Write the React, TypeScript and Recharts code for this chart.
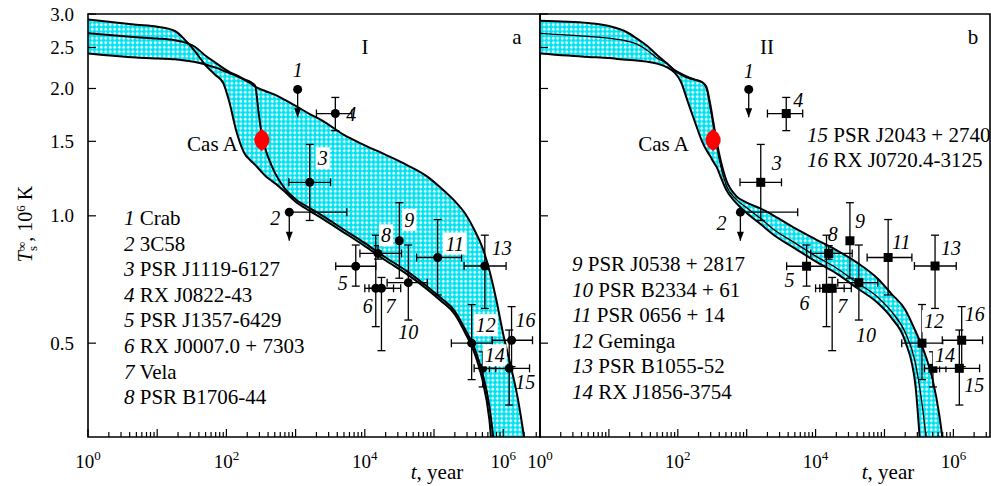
import React from 'react';
import {
  ComposedChart,
  Area,
  Line,
  Scatter,
  XAxis,
  YAxis,
  ErrorBar,
  ReferenceArea,
} from 'recharts';

const FONT = '"Liberation Serif", "DejaVu Serif", "Times New Roman", serif';
const X_MAX = 3.4e6;

const curveAges = [
  1, 5, 10, 18, 25, 35, 50, 70, 90, 110, 140, 180, 225, 260, 295, 330, 370, 420, 500, 700,
  1000, 1600, 2500, 5000, 1e4, 2e4, 4e4, 8e4, 1.25e5, 2e5, 2.8e5, 4e5, 5e5, 6.3e5, 8e5, 1e6,
  1.25e6, 1.6e6, 2e6, 2.5e6,
];

// panel a (model I), surface temperature in 10^6 K
const curveI1 = [
  2.91, 2.83, 2.8, 2.735, 2.61, 2.45, 2.27, 2.15, 2.06, 1.86, 1.58, 1.41, 1.35, 1.32, 1.29,
  1.265, 1.24, 1.22, 1.195, 1.14, 1.08, 1.027, 0.982, 0.913, 0.848, 0.784, 0.729, 0.67, 0.63,
  0.585, 0.53, 0.465, 0.41, 0.33, 0.2, 0.15, 0.12, 0.1, 0.1, 0.1,
];
const curveI2 = [
  2.7, 2.645, 2.625, 2.6, 2.57, 2.51, 2.39, 2.3, 2.235, 2.19, 2.15, 2.105, 2.07, 2.03, 1.73,
  1.53, 1.43, 1.35, 1.265, 1.16, 1.095, 1.043, 0.998, 0.927, 0.862, 0.797, 0.741, 0.68, 0.64,
  0.595, 0.54, 0.478, 0.425, 0.355, 0.25, 0.15, 0.12, 0.1, 0.1, 0.1,
];
const curveI3 = [
  2.42, 2.367, 2.355, 2.345, 2.33, 2.31, 2.28, 2.24, 2.205, 2.175, 2.14, 2.1, 2.055, 2.02, 2.0,
  1.985, 1.97, 1.955, 1.935, 1.88, 1.82, 1.74, 1.675, 1.553, 1.468, 1.394, 1.32, 1.238, 1.165,
  1.083, 1.014, 0.913, 0.842, 0.744, 0.63, 0.525, 0.45, 0.375, 0.3, 0.23,
];

// panel b (model II)
const curveII1 = [
  2.89, 2.855, 2.81, 2.72, 2.63, 2.53, 2.4, 2.29, 2.205, 2.16, 2.12, 2.095, 2.07, 2.02, 1.84,
  1.655, 1.49, 1.35, 1.22, 1.115, 1.075, 1.04, 1.0, 0.935, 0.88, 0.83, 0.775, 0.71, 0.655, 0.6,
  0.535, 0.464, 0.41, 0.335, 0.24, 0.15, 0.12, 0.1, 0.1, 0.1,
];
const curveII2 = [
  2.7, 2.655, 2.63, 2.59, 2.55, 2.47, 2.36, 2.29, 2.215, 2.175, 2.135, 2.1, 2.07, 2.0, 1.8,
  1.62, 1.45, 1.31, 1.185, 1.095, 1.045, 0.985, 0.927, 0.863, 0.803, 0.753, 0.695, 0.642,
  0.595, 0.53, 0.45, 0.3, 0.2, 0.15, 0.12, 0.1, 0.1, 0.1, 0.1, 0.1,
];
const curveII3 = [
  2.42, 2.375, 2.36, 2.338, 2.33, 2.315, 2.29, 2.245, 2.18, 2.08, 1.86, 1.655, 1.5, 1.43, 1.385,
  1.34, 1.3, 1.235, 1.155, 1.073, 1.015, 0.955, 0.9, 0.838, 0.78, 0.731, 0.675, 0.622, 0.575,
  0.505, 0.4, 0.18, 0.12, 0.1, 0.1, 0.1, 0.1, 0.1, 0.1, 0.1,
];

// observed neutron stars
const starNames = [
  'Crab', '3C58', 'PSR J1119-6127', 'RX J0822-43', 'PSR J1357-6429', 'RX J0007.0 + 7303',
  'Vela', 'PSR B1706-44', 'PSR J0538 + 2817', 'PSR B2334 + 61', 'PSR 0656 + 14', 'Geminga',
  'PSR B1055-52', 'RX J1856-3754', 'PSR J2043 + 2740', 'RX J0720.4-3125',
];
const starAge = [
  1070, 810, 1600, 3750, 7400, 14400, 17400, 15500, 31500, 42500, 113000, 350000, 542000,
  505000, 1220000, 1320000,
];
const starAgeLow = [
  1070, 810, 800, 2000, 3800, 10000, 11500, 8500, 31500, 21000, 56000, 178000, 272000, 380000,
  630000, 690000,
];
const starAgeHigh = [
  1070, 5500, 3200, 6500, 14400, 26000, 33000, 34000, 31500, 80000, 250000, 700000, 1100000,
  780000, 2400000, 2650000,
];
const starTemp = [
  1.99, 1.02, 1.2, 1.745, 0.76, 0.674, 0.674, 0.815, 0.873, 0.695, 0.797, 0.5, 0.761, 0.436,
  0.436, 0.508,
];
const starTempLow = [
  1.71, 0.873, 0.975, 1.59, 0.682, 0.547, 0.48, 0.79, 0.712, 0.567, 0.65, 0.41, 0.604, 0.394,
  0.357, 0.44,
];
const starTempHigh = [
  1.99, 1.02, 1.475, 1.905, 0.853, 0.9, 0.715, 0.85, 1.074, 0.853, 0.98, 0.617, 0.9, 0.477,
  0.537, 0.61,
];
const upperLimitIds = [1, 2];

const casAAge = 325;
const casATemp = 1.51;

const yTicks = [0.5, 1.0, 1.5, 2.0, 2.5, 3.0];

// label offsets [dx, dy] from each marker, px
const labelOffsetsA = [
  [0, -19], [-14, 6], [13, -24], [16, 0], [-13, 17], [-8, 18], [9, 18], [8, -18], [10, -21],
  [0, 49], [17, -14], [14, -18], [17, -18], [12, -13], [16, 14], [14, -20],
];
const labelOffsetsB = [
  [0, -18], [-19, 11], [16, -19], [12, -14], [-17, 14], [-22, 15], [10, 18], [4, -19], [10, -20],
  [7, 52], [13, -16], [12, -22], [16, -18], [12, -13], [15, 17], [13, -26],
];
const boxedA = [3, 8, 9, 11, 12, 13, 14];
const boxedB = [12, 14];

const xTicks: number[] = [];
for (let e = 0; e <= 6; e++) {
  for (let m = 1; m <= 9; m++) {
    const v = m * 10 ** e;
    if (v <= X_MAX) xTicks.push(v);
  }
}

function curveRows(c1: number[], c2: number[], c3: number[]) {
  return curveAges.map((t, i) => {
    const v = [c1[i], c2[i], c3[i]];
    return { t, c1: c1[i], c2: c2[i], c3: c3[i], band: [Math.min(...v), Math.max(...v)] };
  });
}

const rowsI = curveRows(curveI1, curveI2, curveI3);
const rowsII = curveRows(curveII1, curveII2, curveII3);

const stars = starNames.map((name, i) => ({
  id: i + 1,
  name,
  t: starAge[i],
  T: starTemp[i],
  xErr: [starAge[i] - starAgeLow[i], starAgeHigh[i] - starAge[i]],
  yErr: [starTemp[i] - starTempLow[i], starTempHigh[i] - starTemp[i]],
}));
const measured = stars.filter((s) => !upperLimitIds.includes(s.id));
const limits = stars.filter((s) => upperLimitIds.includes(s.id));
const arrowTips = limits.map((s) => ({ id: s.id, t: s.t, T: starTempLow[s.id - 1] }));
const casA = [{ t: casAAge, T: casATemp }];

function XTick(props: any) {
  const { x, y, payload } = props;
  const s = String(payload.value);
  const decade = /^10*$/.test(s);
  const exp = s.length - 1;
  return (
    <g>
      <line x1={x} x2={x} y1={y} y2={y - (decade ? 8 : 5)} stroke="#000" strokeWidth={1.2} />
      {decade && exp % 2 === 0 && (
        <text x={x} y={y + 31} textAnchor="middle" fontSize={19} fontFamily={FONT} fill="#000">
          10
          <tspan dy={-8} fontSize={13}>
            {exp}
          </tspan>
        </text>
      )}
    </g>
  );
}

function makeYTick(gap: number, showLabel: boolean) {
  return (props: any) => {
    const { x, y, payload } = props;
    const ax = x + gap;
    return (
      <g>
        <line x1={ax} x2={ax + 8} y1={y} y2={y} stroke="#000" strokeWidth={1.2} />
        {showLabel && (
          <text x={x} y={y} dy="0.35em" textAnchor="end" fontSize={19} fontFamily={FONT} fill="#000">
            {Number(payload.value).toFixed(1)}
          </text>
        )}
      </g>
    );
  };
}

function makeMarker(square: boolean, offsets: number[][], boxed: number[], forceCircle = false) {
  return (props: any) => {
    const { cx, cy, payload } = props;
    if (cx == null || cy == null) return <g />;
    const [dx, dy] = offsets[payload.id - 1];
    const label = String(payload.id);
    const w = label.length * 10 + 4;
    return (
      <g>
        {square && !forceCircle ? (
          <rect x={cx - 4.5} y={cy - 4.5} width={9} height={9} fill="#000" />
        ) : (
          <circle cx={cx} cy={cy} r={4.5} fill="#000" />
        )}
        {boxed.includes(payload.id) && (
          <rect x={cx + dx - w / 2} y={cy + dy - 11} width={w} height={22} fill="#fff" />
        )}
        <text
          x={cx + dx}
          y={cy + dy}
          dy="0.35em"
          textAnchor="middle"
          fontStyle="italic"
          fontSize={20}
          fontFamily={FONT}
          fill="#000"
        >
          {label}
        </text>
      </g>
    );
  };
}

function ArrowTip(props: any) {
  const { cx, cy } = props;
  if (cx == null || cy == null) return <g />;
  return <polygon points={`${cx - 3.5},${cy - 9} ${cx + 3.5},${cy - 9} ${cx},${cy}`} fill="#000" />;
}

function CasAShape(props: any) {
  const { cx, cy } = props;
  if (cx == null || cy == null) return <g />;
  const pts = [
    [0, -11], [5, -7], [7.5, -2], [7.5, 2], [5, 7], [0, 11], [-5, 7], [-7.5, 2], [-7.5, -2], [-5, -7],
  ]
    .map(([a, b]) => `${cx + a},${cy + b}`)
    .join(' ');
  return (
    <g>
      <polygon points={pts} fill="#ff0000" />
      <text x={cx - 24} y={cy + 4} dy="0.35em" textAnchor="end" fontSize={21} fontFamily={FONT} fill="#000">
        Cas A
      </text>
    </g>
  );
}

type PanelProps = {
  rows: any[];
  square: boolean;
  offsets: number[][];
  boxed: number[];
  patternId: string;
  width: number;
  yWidth: number;
  yLabels: boolean;
  innerWidth: number;
};

function Panel({ rows, square, offsets, boxed, patternId, width, yWidth, yLabels, innerWidth }: PanelProps) {
  const gap = yLabels ? 14 : 0;
  return (
    <ComposedChart width={width} height={486} data={rows} margin={{ top: 14, right: 1, bottom: 19, left: 0 }}>
      <defs>
        <pattern id={patternId} width={4.5} height={4.5} patternUnits="userSpaceOnUse">
          <rect width={4.5} height={4.5} fill="#00e2f2" />
          <path d="M2.25 0.5 L4 2.25 L2.25 4 L0.5 2.25 Z" fill="#ffffff" />
        </pattern>
      </defs>
      <XAxis
        dataKey="t"
        type="number"
        scale="log"
        domain={[1, X_MAX]}
        allowDataOverflow
        ticks={xTicks}
        interval={0}
        axisLine={false}
        tickLine={false}
        tickSize={0}
        tickMargin={0}
        height={30}
        tick={XTick}
      />
      <YAxis
        type="number"
        scale="log"
        domain={[0.3, 3]}
        allowDataOverflow
        ticks={yTicks}
        interval={0}
        axisLine={false}
        tickLine={false}
        tickSize={0}
        tickMargin={gap}
        width={yWidth}
        tick={makeYTick(gap, yLabels)}
      />
      <Area
        dataKey="band"
        type="monotone"
        stroke="none"
        fill={`url(#${patternId})`}
        fillOpacity={1}
        isAnimationActive={false}
        activeDot={false}
      />
      <Line dataKey="c1" type="monotone" stroke="#000" strokeWidth={2} dot={false} activeDot={false} isAnimationActive={false} />
      <Line dataKey="c2" type="monotone" stroke="#000" strokeWidth={innerWidth} dot={false} activeDot={false} isAnimationActive={false} />
      <Line dataKey="c3" type="monotone" stroke="#000" strokeWidth={2} dot={false} activeDot={false} isAnimationActive={false} />
      <ReferenceArea x1={1} x2={X_MAX} y1={0.3} y2={3} fill="none" stroke="#000" strokeWidth={1.6} ifOverflow="visible" />
      <Scatter data={measured} dataKey="T" shape={makeMarker(square, offsets, boxed)} isAnimationActive={false}>
        <ErrorBar dataKey="xErr" direction="x" width={4} stroke="#000" strokeWidth={1.3} isAnimationActive={false} />
        <ErrorBar dataKey="yErr" direction="y" width={4} stroke="#000" strokeWidth={1.3} isAnimationActive={false} />
      </Scatter>
      <Scatter data={limits} dataKey="T" shape={makeMarker(square, offsets, boxed, true)} isAnimationActive={false}>
        <ErrorBar dataKey="xErr" direction="x" width={4} stroke="#000" strokeWidth={1.3} isAnimationActive={false} />
        <ErrorBar dataKey="yErr" direction="y" width={0} stroke="#000" strokeWidth={1.3} isAnimationActive={false} />
      </Scatter>
      <Scatter data={arrowTips} dataKey="T" shape={ArrowTip} isAnimationActive={false} />
      <Scatter data={casA} dataKey="T" shape={CasAShape} isAnimationActive={false} />
    </ComposedChart>
  );
}

const abs = (left: number, top: number, extra: React.CSSProperties = {}): React.CSSProperties => ({
  position: 'absolute',
  left,
  top,
  whiteSpace: 'nowrap',
  ...extra,
});

function StarList({ ids, left, top, lh }: { ids: number[]; left: number; top: number; lh: number }) {
  return (
    <div style={abs(left, top, { fontSize: 21, lineHeight: `${lh}px` })}>
      {ids.map((id) => (
        <div key={id}>
          <i>{id}</i> {starNames[id - 1]}
        </div>
      ))}
    </div>
  );
}

export default function App() {
  return (
    <div
      style={{
        position: 'absolute',
        left: 0,
        top: 0,
        width: 991,
        height: 486,
        background: '#fff',
        fontFamily: FONT,
        color: '#000',
        overflow: 'hidden',
      }}
    >
      <div style={abs(0, 0)}>
        <Panel rows={rowsI} square={false} offsets={labelOffsetsA} boxed={boxedA} patternId="hatchI" width={541} yWidth={88} yLabels innerWidth={2} />
      </div>
      <div style={abs(515, 0)}>
        <Panel rows={rowsII} square offsets={labelOffsetsB} boxed={boxedB} patternId="hatchII" width={476} yWidth={25} yLabels={false} innerWidth={1.3} />
      </div>

      <div style={abs(25, 224, { transform: 'translate(-50%, -50%) rotate(-90deg)', fontSize: 20 })}>
        <i>T</i>
        <span style={{ display: 'inline-block', verticalAlign: '-0.3em', lineHeight: '0.8em', fontSize: '0.65em' }}>
          ∞<br />s
        </span>
        , 10<sup style={{ fontSize: '0.65em' }}>6</sup> K
      </div>

      <div style={abs(437, 460, { transform: 'translateX(-50%)', fontSize: 21, lineHeight: '25.6px' })}>
        <i>t</i>, year
      </div>
      <div style={abs(888, 460, { transform: 'translateX(-50%)', fontSize: 21, lineHeight: '25.6px' })}>
        <i>t</i>, year
      </div>

      <div style={abs(365, 35, { transform: 'translateX(-50%)', fontSize: 21, lineHeight: '25.6px' })}>I</div>
      <div style={abs(517, 25, { transform: 'translateX(-50%)', fontSize: 21, lineHeight: '25.6px' })}>a</div>
      <div style={abs(767, 35, { transform: 'translateX(-50%)', fontSize: 21, lineHeight: '25.6px' })}>II</div>
      <div style={abs(973, 25, { transform: 'translateX(-50%)', fontSize: 21, lineHeight: '25.6px' })}>b</div>

      <StarList ids={[1, 2, 3, 4, 5, 6, 7, 8]} left={124} top={206} lh={25.6} />
      <StarList ids={[9, 10, 11, 12, 13, 14]} left={572} top={252} lh={25.6} />
      <StarList ids={[15, 16]} left={807} top={123} lh={25} />
    </div>
  );
}
